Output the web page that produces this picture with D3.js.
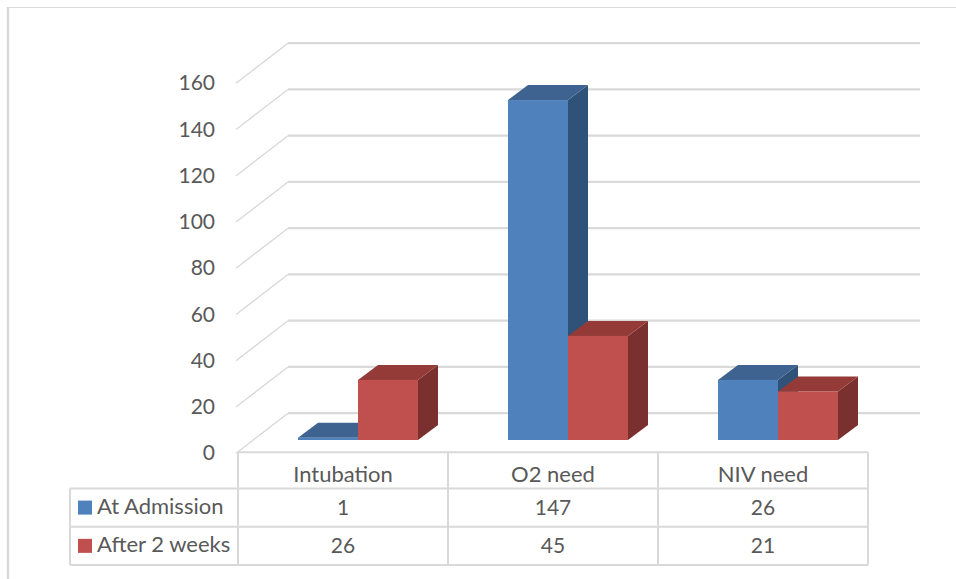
<!DOCTYPE html>
<html><head><meta charset="utf-8">
<script src="https://cdn.jsdelivr.net/npm/d3@7"></script>
<style>html,body{margin:0;padding:0;background:#fff}svg{display:block}text{font-family:Lato,"Open Sans",sans-serif;fill:#595959}</style>
</head><body><svg id="c" width="956" height="579"></svg>
<script>
const categories = ["Intubation","O2 need","NIV need"];
const seriesNames = ["At Admission","After 2 weeks"];
const atAdmission = [1,147,26];
const after2Weeks = [26,45,21];
const yTicks = [0,20,40,60,80,100,120,140,160];
const frontColors = ["#4F81BD","#C0504D"];
const topColors = ["#3E6390","#943B38"];
const sideColors = ["#2F5279","#7A302E"];
const gridColor = "#D9D9D9";

const svg = d3.select("#c");
const dx = 50, dy = -38.5;      // wall depth
const bdx = 20, bdy = -15;      // bar depth
const left = 238, right = 868, front0 = 451.7, front160 = 81.7;
const y = d3.scaleLinear().domain([0,160]).range([front0,front160]);
const x = d3.scaleBand().domain(categories).range([left,right]);
const barW = 60;
const base = 440 - front0;

// frame
svg.append("path").attr("d","M0 7.5H956").attr("fill","none").attr("stroke",gridColor).attr("stroke-width",1.2)
  .attr("d","M7 7.5H956");
svg.append("line").attr("x1",8).attr("x2",8).attr("y1",7).attr("y2",579).attr("stroke",gridColor).attr("stroke-width",2.4);

// gridlines
const grid = svg.append("g").attr("fill","none").attr("stroke",gridColor);
yTicks.forEach(t=>{
  grid.append("path").attr("stroke-width",1.4).attr("d",d3.line()([[left-2,y(t)+1.5],[left+dx,y(t)+dy]]));
  grid.append("path").attr("stroke-width",2.2).attr("d",d3.line()([[left+dx,y(t)+dy],[920,y(t)+dy]]));
});

// axis
const axis = svg.append("g").attr("transform","translate(221,1.5)")
  .call(d3.axisLeft(y).tickValues(yTicks).tickSize(0).tickPadding(6));
axis.select(".domain").remove();
axis.selectAll("text").attr("font-size",21).style("font-family",'Lato,"Open Sans",sans-serif').attr("fill","#595959");

// bars
const rows = [atAdmission, after2Weeks];
const bars = svg.append("g");
categories.forEach((c,i)=>{
  const start = x(c) + 60;
  rows.forEach((vals,s)=>{
    const xl = start + s*barW, xr = xl + barW;
    const yb = y(0) + base, yt = y(vals[i]) + base;
    const line = d3.line();
    bars.append("path").attr("fill",sideColors[s])
      .attr("d",line([[xr,yb],[xr+bdx,yb+bdy],[xr+bdx,yt+bdy],[xr,yt]])+"Z");
    bars.append("path").attr("fill",topColors[s])
      .attr("d",line([[xl,yt],[xl+bdx,yt+bdy],[xr+bdx,yt+bdy],[xr,yt]])+"Z");
    bars.append("rect").attr("x",xl).attr("y",yt).attr("width",barW).attr("height",yb-yt).attr("fill",frontColors[s]);
  });
});

// data table
const rowY = [452.3,488.5,526.7,565];
const tableLeft = 70;
const tg = svg.append("g").attr("fill","none").attr("stroke",gridColor).attr("stroke-width",2);
const edges = [...x.domain().map(c=>x(c)), right];
edges.forEach(e=>tg.append("line").attr("x1",e).attr("x2",e).attr("y1",rowY[0]).attr("y2",rowY[3]));
tg.append("line").attr("x1",tableLeft).attr("x2",tableLeft).attr("y1",rowY[1]).attr("y2",rowY[3]);
rowY.slice(1).forEach(r=>tg.append("line").attr("x1",tableLeft).attr("x2",right).attr("y1",r).attr("y2",r));
tg.append("line").attr("x1",left).attr("x2",right).attr("y1",rowY[0]).attr("y2",rowY[0]);

const labels = svg.append("g");
const rowBase = [481.7,514.5,552.5];
categories.forEach((c,i)=>{
  const cx = x(c)+x.bandwidth()/2;
  labels.append("text").attr("font-size",22).attr("x",cx).attr("y",rowBase[0]).attr("text-anchor","middle").text(c);
  rows.forEach((vals,s)=>labels.append("text").attr("font-size",21).attr("x",cx).attr("y",rowBase[s+1]).attr("text-anchor","middle").text(vals[i]));
});
seriesNames.forEach((n,s)=>{
  const cy = (rowY[s+1]+rowY[s+2])/2;
  svg.append("rect").attr("x",78).attr("y",cy-7).attr("width",14).attr("height",14).attr("fill",frontColors[s]);
  labels.append("text").attr("font-size",22).attr("x",97).attr("y",rowBase[s+1]-0.5).text(n);
});
</script></body></html>
